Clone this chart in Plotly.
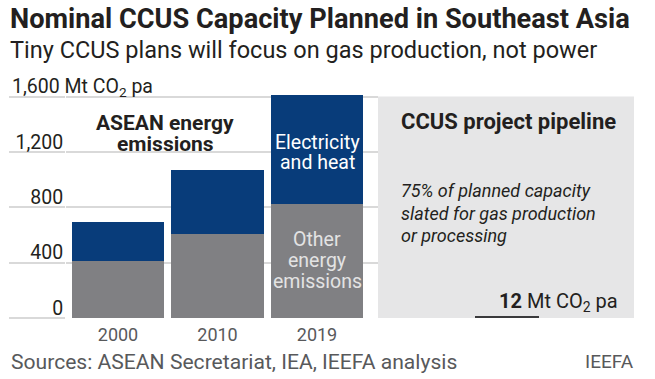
import plotly.graph_objects as go

# ---- data ----
years = ["2000", "2010", "2019"]
other_energy = [412, 610, 825]       # Mt CO2 pa
electricity_heat = [280, 462, 785]   # Mt CO2 pa
ccus_pipeline = [12]                 # Mt CO2 pa
y_ticks = [0, 400, 800, 1200, 1600]
y_ticktext = ["0", "400", "800", "1,200", ""]

# ---- layout geometry ----
W, H = 655, 379
L, R, T, B = 66, 21, 91, 61
PW, PH = W - L - R, H - T - B

def px(x):
    return (x - L) / PW

def py(y):
    return (H - B - y) / PH

NAVY = "#083c7a"
GREY = "#808083"
BOX = "#e6e6e7"
GRID = "#d9d9d9"
TXT = "#231f20"
SOFT = "#58595b"
FONT = "Roboto"

xpos = [0, 1, 2]
x_left = (L - 118) / 99.5
x_right = (378 - 118) / 99.5

fig = go.Figure()
fig.add_trace(go.Bar(x=xpos, y=other_energy, marker=dict(color=GREY, line=dict(width=0)),
                     width=0.925, xaxis="x", yaxis="y", name="Other energy emissions",
                     hoverinfo="skip"))
fig.add_trace(go.Bar(x=xpos, y=electricity_heat, marker=dict(color=NAVY, line=dict(width=0)),
                     width=0.925, xaxis="x", yaxis="y", name="Electricity and heat",
                     hoverinfo="skip"))
fig.add_trace(go.Bar(x=[0.504], y=ccus_pipeline, marker=dict(color="#3a3a3c", line=dict(width=0)),
                     width=0.25, xaxis="x2", yaxis="y2", name="CCUS pipeline",
                     hoverinfo="skip"))

split = px(378)
fig.update_layout(
    width=W, height=H,
    margin=dict(l=L, r=R, t=T, b=B, pad=0, autoexpand=False),
    paper_bgcolor="white", plot_bgcolor="white",
    barmode="stack", showlegend=False,
    font=dict(family=FONT, color=TXT),
    xaxis=dict(domain=[0, split], range=[x_left, x_right], anchor="y",
               tickvals=xpos, ticktext=years, showgrid=False, zeroline=False,
               showline=False, ticks="", ticklabelstandoff=4,
               tickfont=dict(size=18, color=SOFT),
               automargin=False, fixedrange=True),
    xaxis2=dict(domain=[split, 1], range=[0, 1], anchor="y2", showgrid=False,
                zeroline=False, showline=False, showticklabels=False, ticks="",
                automargin=False, fixedrange=True),
    yaxis=dict(range=[0, 1640], anchor="x", side="left",
               tickvals=y_ticks, ticktext=y_ticktext, showgrid=True,
               gridcolor=GRID, gridwidth=1.5, zeroline=False, showline=False,
               ticks="outside", ticklen=56, tickwidth=1.5, tickcolor=GRID,
               ticklabelstandoff=-58, ticklabelshift=-10,
               tickfont=dict(size=19.5, color=TXT), automargin=False,
               fixedrange=True),
    yaxis2=dict(matches="y", anchor="x2", tickvals=[0], showticklabels=False,
                showgrid=True, gridcolor=GRID, gridwidth=1.5, zeroline=False,
                showline=False, ticks="", automargin=False, fixedrange=True),
    shapes=[dict(type="rect", xref="x2", yref="y2", x0=0, x1=1, y0=0, y1=1600,
                 fillcolor=BOX, line=dict(width=0), layer="below")],
)

ann = []
def add(text, x, y, size, xanchor="left", color=TXT, bold=False, italic=False):
    t = text
    if bold:
        t = "<b>" + t + "</b>"
    if italic:
        t = "<i>" + t + "</i>"
    ann.append(dict(text=t, x=px(x), y=py(y), xref="paper", yref="paper",
                    xanchor=xanchor, yanchor="middle", showarrow=False,
                    borderpad=0, font=dict(size=size, color=color, family=FONT)))

add("Nominal CCUS Capacity Planned in Southeast Asia", 9, 19, 27.2, bold=True)
add("Tiny CCUS plans will focus on gas production, not power", 9, 50, 23.5)
add("1,600 Mt CO<sub>2</sub> pa", 11, 88, 19.5)
add("ASEAN energy", 165, 123, 21, xanchor="center", bold=True)
add("emissions", 165, 144, 21, xanchor="center", bold=True)
add("Electricity", 317, 142, 19.5, xanchor="center", color="white")
add("and heat", 317, 162, 19.5, xanchor="center", color="white")
add("Other", 317, 239, 19.5, xanchor="center", color="#e3e3e3")
add("energy", 317, 260, 19.5, xanchor="center", color="#e3e3e3")
add("emissions", 317, 281, 19.5, xanchor="center", color="#e3e3e3")
add("CCUS project pipeline", 400, 122, 22, bold=True)
add("75% of planned capacity", 400, 190, 18, italic=True)
add("slated for gas production", 400, 213, 18, italic=True)
add("or processing", 400, 235, 18, italic=True)
add("<b>12</b> Mt CO<sub>2</sub> pa", 619, 302, 20, xanchor="right")
add("Sources: ASEAN Secretariat, IEA, IEEFA analysis", 10, 361, 21.1, color=SOFT)
add("IEEFA", 635, 361, 19, xanchor="right", color=SOFT)
fig.update_layout(annotations=ann)

fig.write_html("out.html", config={"displayModeBar": False},
               post_script="document.body.style.margin='0';document.body.style.overflow='hidden';")
